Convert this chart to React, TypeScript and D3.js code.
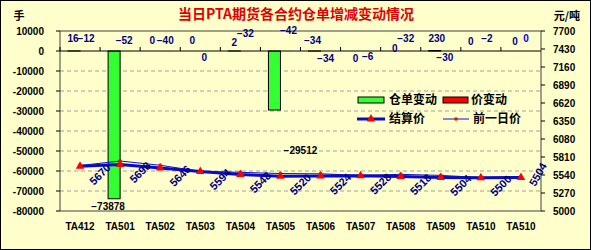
import React from 'react';
import * as d3 from 'd3';

const categories = ['TA412', 'TA501', 'TA502', 'TA503', 'TA504', 'TA505', 'TA506', 'TA507', 'TA508', 'TA509', 'TA510', 'TA510'];
const receiptChange = [16, -73878, 0, 0, 2, -29512, -34, 0, 0, 230, 0, 0];
const priceChange = [-12, -52, -40, 0, -32, -42, -34, -6, -32, -30, -2, 0];
const settlePrice = [5670, 5698, 5646, 5594, 5548, 5520, 5524, 5528, 5518, 5504, 5500, 5504];
const prevPrice = [5682, 5750, 5686, 5594, 5580, 5562, 5558, 5534, 5550, 5534, 5502, 5504];
const leftTicks = [10000, 0, -10000, -20000, -30000, -40000, -50000, -60000, -70000, -80000];
const rightTicks = [7700, 7430, 7160, 6890, 6620, 6350, 6080, 5810, 5540, 5270, 5000];

// layout nudges for the value labels (pixels), not data
const receiptLabelNudge: [number, number][] = [
  [-1, -13], [-6, 8], [-2, -11], [-2, -11], [0, -9], [26, 40], [-2, -11], [1, 7], [0, -3], [2, -13], [-4, -10], [0, -10],
];
const priceLabelNudge: [number, number][] = [
  [0, -13], [-2, -11], [-1, -11], [-2, 6], [-1, -18], [2, -21], [-1, 7], [1, 5], [-1, -13], [-2, 6], [0, -13], [-1, -13],
];

const W = 591;
const H = 250;
const L = 60;
const R = 541;
const T = 31;
const B = 211;

const NUM_FONT = '"Liberation Sans", Arial, sans-serif';
const CJK_FONT = '"Noto Sans CJK SC", "Noto Sans", sans-serif';

export default function App() {
  const idx = categories.map((_, i) => String(i));
  const x = d3.scaleBand<string>().domain(idx).range([L, R]).padding(0);
  const bw = x.bandwidth();
  const inner = d3.scaleBand<string>().domain(['r', 'p']).range([bw * 0.2, bw * 0.8]).padding(0);
  const yL = d3.scaleLinear().domain([-80000, 10000]).range([B, T]);
  const yR = d3.scaleLinear().domain([5000, 7700]).range([B, T]);
  const y0 = yL(0);
  const cx = (i: number) => (x(String(i)) as number) + bw / 2;

  const lineGen = d3
    .line<number>()
    .x((_, i) => cx(i))
    .y((d) => yR(d));
  const tri = d3.symbol().type(d3.symbolTriangle).size(32)();

  const gridVals = leftTicks.filter((v) => v < 10000 && v > -80000 && v !== 0);
  const last = settlePrice.length - 1;

  return (
    <svg width={W} height={H} style={{ position: 'absolute', left: 0, top: 0 }}>
      <rect x={0.5} y={0.5} width={W - 1} height={H - 1} fill="#ffffcc" stroke="#000" strokeWidth={1} />
      <text x={296} y={19} textAnchor="middle" fontFamily={CJK_FONT} fontWeight="bold" fontSize={14} fill="#e00000">
        当日PTA期货各合约仓单增减变动情况
      </text>
      <text x={19} y={20} textAnchor="middle" fontFamily={CJK_FONT} fontWeight="bold" fontSize={11} fill="#000">
        手
      </text>
      <text x={567} y={20} textAnchor="middle" fontFamily={CJK_FONT} fontWeight="bold" fontSize={11} fill="#000">
        元/吨
      </text>

      {gridVals.map((v) => (
        <line key={'g' + v} x1={L} x2={R} y1={yL(v)} y2={yL(v)} stroke="#a0a0a0" strokeDasharray="4,3" strokeWidth={1} />
      ))}

      <rect x={L} y={T} width={R - L} height={B - T} fill="none" stroke="#404040" strokeWidth={1} />

      {leftTicks.map((v) => (
        <g key={'l' + v}>
          <line x1={L - 4} x2={L} y1={yL(v)} y2={yL(v)} stroke="#000" />
          <text x={44} y={yL(v)} dy="0.35em" textAnchor="end" fontFamily={NUM_FONT} fontWeight="bold" fontSize={10} fill="#000">
            {v}
          </text>
        </g>
      ))}
      {rightTicks.map((v) => (
        <g key={'r' + v}>
          <line x1={R} x2={R + 4} y1={yR(v)} y2={yR(v)} stroke="#000" />
          <text x={553} y={yR(v)} dy="0.35em" textAnchor="start" fontFamily={NUM_FONT} fontWeight="bold" fontSize={10} fill="#000">
            {v}
          </text>
        </g>
      ))}

      {receiptChange.map((v, i) => {
        const x0 = (x(String(i)) as number) + (inner('r') as number);
        const ya = yL(Math.max(0, v));
        const yb = yL(Math.min(0, v));
        return (
          <rect key={'rb' + i} x={x0} y={ya} width={inner.bandwidth()} height={Math.max(0, yb - ya)} fill="#33ff33" stroke="#000" strokeWidth={v === 0 ? 0 : 1} />
        );
      })}
      {priceChange.map((v, i) => {
        const x0 = (x(String(i)) as number) + (inner('p') as number);
        const ya = yL(Math.max(0, v));
        const yb = yL(Math.min(0, v));
        return <rect key={'pb' + i} x={x0} y={ya} width={inner.bandwidth()} height={Math.max(0, yb - ya)} fill="#ff0000" />;
      })}

      <line x1={L} x2={R} y1={y0} y2={y0} stroke="#000" strokeWidth={1} />
      {idx.map((k) => (
        <line key={'ct' + k} x1={x(k) as number} x2={x(k) as number} y1={y0 - 4} y2={y0} stroke="#000" />
      ))}
      {categories.map((c, i) => (
        <text key={'c' + i} x={cx(i)} y={226} dy="0.35em" textAnchor="middle" fontFamily={NUM_FONT} fontWeight="bold" fontSize={10} fill="#000">
          {c}
        </text>
      ))}

      {receiptChange.map((v, i) => {
        const bx = (x(String(i)) as number) + (inner('r') as number) + inner.bandwidth() / 2;
        const big = Math.abs(v) > 1000;
        const by = big ? yL(v) : y0;
        const [dx, dy] = receiptLabelNudge[i];
        return (
          <text key={'rl' + i} x={bx + dx} y={by + dy} dy="0.35em" textAnchor="middle" fontFamily={NUM_FONT} fontWeight="bold" fontSize={10} fill={big ? '#000' : '#000080'}>
            {v < 0 ? '\u2212' + Math.abs(v) : v}
          </text>
        );
      })}
      {priceChange.map((v, i) => {
        const bx = (x(String(i)) as number) + (inner('p') as number) + inner.bandwidth() / 2;
        const [dx, dy] = priceLabelNudge[i];
        return (
          <text key={'pl' + i} x={bx + dx} y={y0 + dy} dy="0.35em" textAnchor="middle" fontFamily={NUM_FONT} fontWeight="bold" fontSize={10} fill={i === last ? '#0000ff' : '#000080'}>
            {v < 0 ? '\u2212' + Math.abs(v) : v}
          </text>
        );
      })}

      <path d={lineGen(prevPrice) as string} fill="none" stroke="#1010d0" strokeWidth={1} />
      <path d={lineGen(settlePrice) as string} fill="none" stroke="#0a0acc" strokeWidth={3} />
      {prevPrice.map((v, i) => (
        <rect key={'pm' + i} x={cx(i) - 1.5} y={yR(v) - 1.5} width={3} height={3} fill="#ff0000" />
      ))}
      {settlePrice.map((v, i) => (
        <path key={'sm' + i} d={tri as string} transform={`translate(${cx(i)},${yR(v)})`} fill="#ff0000" />
      ))}
      {settlePrice.map((v, i) => {
        const isLast = i === last;
        const lx = cx(i) + (isLast ? 17 : 20);
        const ly = yR(v) + (isLast ? -3 : 8);
        const ang = isLast ? -60 : -45;
        return (
          <text key={'sl' + i} x={lx} y={ly} dy="0.35em" textAnchor="middle" transform={`rotate(${ang},${lx},${ly})`} fontFamily={NUM_FONT} fontWeight="bold" fontSize={11} fill="#000080">
            {v}
          </text>
        );
      })}

      <g fontFamily={CJK_FONT} fontWeight="bold" fontSize={12} fill="#000">
        <rect x={358} y={97} width={26} height={6} fill="#33ff33" stroke="#000" strokeWidth={1} />
        <text x={389} y={100} dy="0.35em">仓单变动</text>
        <rect x={443} y={97} width={25} height={6} fill="#ff0000" stroke="#000" strokeWidth={1} />
        <text x={471} y={100} dy="0.35em">价变动</text>
        <line x1={357} x2={385} y1={119} y2={119} stroke="#0a0acc" strokeWidth={3} />
        <path d={tri as string} transform="translate(371,119)" fill="#ff0000" />
        <text x={389} y={119} dy="0.35em">结算价</text>
        <line x1={443} x2={469} y1={119} y2={119} stroke="#1010d0" strokeWidth={1} />
        <rect x={454.5} y={117.5} width={3} height={3} fill="#ff0000" />
        <text x={473} y={119} dy="0.35em">前一日价</text>
      </g>
    </svg>
  );
}
